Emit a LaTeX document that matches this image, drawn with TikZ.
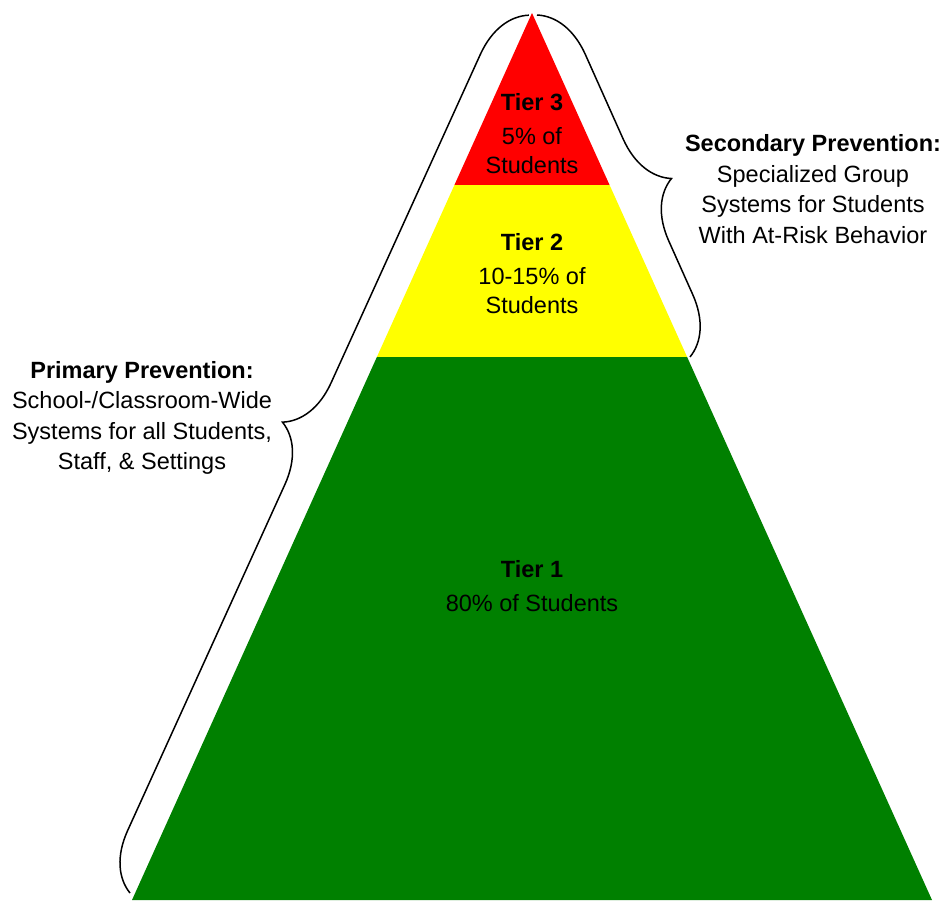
\documentclass[tikz,border=0pt]{standalone}
\usepackage{fontspec}
\setmainfont{Liberation Sans}
\usetikzlibrary{decorations.pathreplacing, calc}
\definecolor{tierred}{HTML}{FF0000}
\definecolor{tieryellow}{HTML}{FFFF00}
\definecolor{tiergreen}{HTML}{008000}
\tikzset{
  tierlabel/.style={align=center, inner sep=0pt,
                    font=\fontsize{23.5}{29}\selectfont},
  sidelabel/.style={align=center, inner sep=0pt,
                    font=\fontsize{23.5}{30.5}\selectfont},
  bracket/.style={decorate, line width=1.5pt, draw=black,
                  decoration={brace, amplitude=56pt, aspect=#1}},
  bracket/.default=0.5,
}
\def\cutthree{0.1939}
\def\cuttwo{0.3878}

\begin{document}
\begin{tikzpicture}[x=1pt, y=-1pt]
\useasboundingbox (0,0) rectangle (949,900);

% Pyramid corners and tier cuts
\coordinate (apex)  at (532,13);
\coordinate (baseL) at (132,900);
\coordinate (baseR) at (932,900);
\coordinate (redL) at ($(apex)!\cutthree!(baseL)$);
\coordinate (redR) at ($(apex)!\cutthree!(baseR)$);
\coordinate (yelL) at ($(apex)!\cuttwo!(baseL)$);
\coordinate (yelR) at ($(apex)!\cuttwo!(baseR)$);

% Tiers
\fill[tiergreen]  (yelL) -- (yelR) -- (baseR) -- (baseL) -- cycle;
\fill[tieryellow] (redL) -- (redR) -- (yelR) -- (yelL) -- cycle;
\fill[tierred]    (apex) -- (redR) -- (redL) -- cycle;

\node[tierlabel] (tier3) at (532,134) {\textbf{Tier 3}\\[5pt]5\% of\\Students};
\node[tierlabel] (tier2) at (532,274) {\textbf{Tier 2}\\[5pt]10-15\% of\\Students};
\node[tierlabel] (tier1) at (532,586) {\textbf{Tier 1}\\[5pt]80\% of Students};

% Braces along the sides
\coordinate (primlo) at (130,893);
\coordinate (primhi) at (529,15);
\coordinate (seclo)  at (537,15);
\coordinate (sechi)  at (690,357);
\draw[bracket=0.51]  (primlo) -- (primhi);
\draw[bracket=0.545] (seclo) -- (sechi);

% Side notes
\node[sidelabel] (secondary) at (813,189)
  {\textbf{Secondary Prevention:}\\Specialized Group\\Systems for Students\\With At-Risk Behavior};
\node[sidelabel] (primary) at (142,418)
  {\textbf{Primary Prevention:}\\School-/Classroom-Wide\\Systems for all Students,\\Staff, \& Settings};

\end{tikzpicture}
\end{document}
